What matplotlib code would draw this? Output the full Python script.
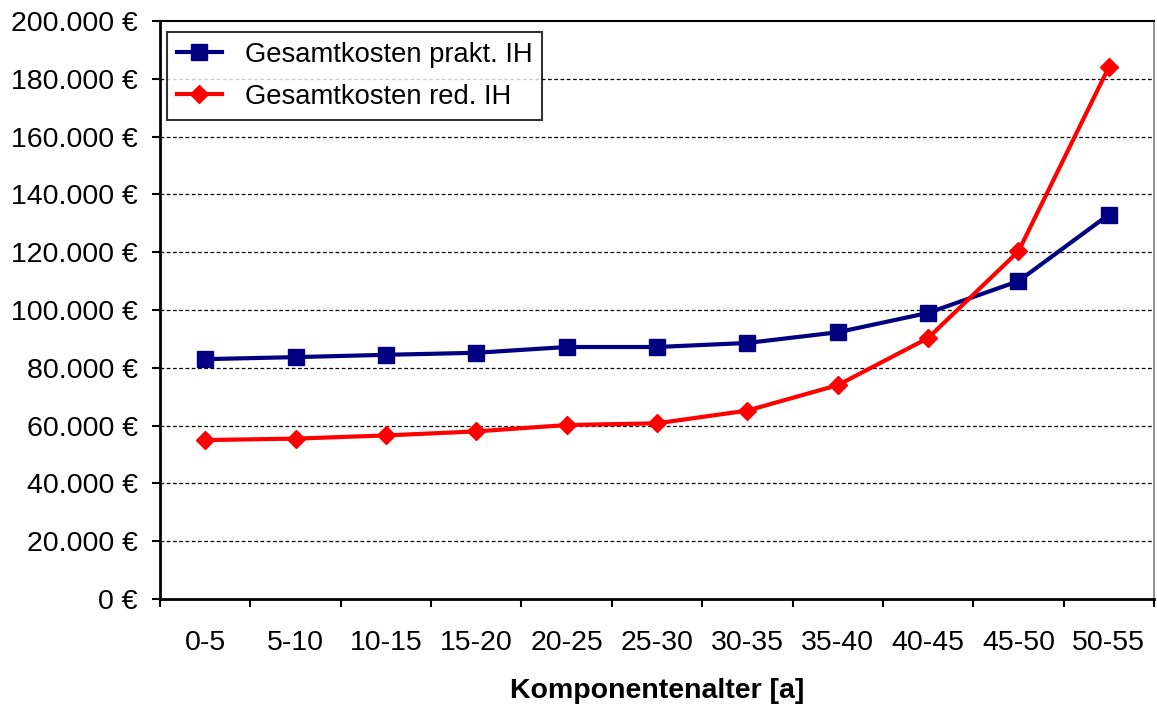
import matplotlib.pyplot as plt
from matplotlib.ticker import FuncFormatter

plt.rcParams['font.family'] = ['Liberation Sans', 'DejaVu Sans']

# Data
categories = ['0-5', '5-10', '10-15', '15-20', '20-25', '25-30',
              '30-35', '35-40', '40-45', '45-50', '50-55']
kosten_prakt = [83000, 83700, 84500, 85200, 87200, 87200,
                88600, 92300, 99000, 110000, 133000]
kosten_red = [55000, 55500, 56600, 58000, 60200, 60800,
              65200, 74000, 90300, 120300, 184000]

fig = plt.figure(figsize=(11.57, 7.09), dpi=100)
ax = fig.add_axes([0.1383, 0.1551, 0.8591, 0.8153])

x = list(range(len(categories)))
ax.plot(x, kosten_prakt, color='#000080', lw=3, marker='s', ms=12,
        mfc='#000080', mec='#000080', label='Gesamtkosten prakt. IH', zorder=3)
ax.plot(x, kosten_red, color='#ff0000', lw=3, marker='D', ms=9.5,
        mfc='#ff0000', mec='#ff0000', label='Gesamtkosten red. IH', zorder=3)

ax.set_xlim(-0.5, len(categories) - 0.5)
ax.set_ylim(0, 200000)

ax.set_yticks(range(0, 200001, 20000))
ax.yaxis.set_major_formatter(FuncFormatter(lambda v, p: f'{int(v):,} €'.replace(',', '.')))
for v in range(20000, 200000, 20000):
    ax.axhline(v, color='black', lw=0.9, ls=(0, (3, 2)), zorder=1)

ax.set_xticks(x)
ax.set_xticklabels(categories)
ax.set_xticks([i - 0.5 for i in range(len(categories) + 1)], minor=True)
ax.tick_params(axis='x', which='major', length=0, pad=22, labelsize=20.5)
ax.tick_params(axis='x', which='minor', length=6, width=1.5, direction='out')
ax.tick_params(axis='y', length=6, width=1.5, direction='out', pad=10, labelsize=20.5)

for s in ['left', 'bottom']:
    ax.spines[s].set_linewidth(2)
ax.spines['top'].set_linewidth(1.5)
ax.spines['right'].set_linewidth(1.2)
ax.spines['right'].set_color('#808080')

ax.set_xlabel('Komponentenalter [a]', fontsize=20.5, fontweight='bold', labelpad=16)

leg = ax.legend(loc='upper left', bbox_to_anchor=(0.007, 0.981), borderaxespad=0,
                fontsize=19.7, frameon=True, fancybox=False, edgecolor='black',
                handlelength=1.65, handletextpad=0.85, borderpad=0.35, labelspacing=0.6)
leg.get_frame().set_linewidth(1.5)

fig.savefig('out.png', dpi=100)
